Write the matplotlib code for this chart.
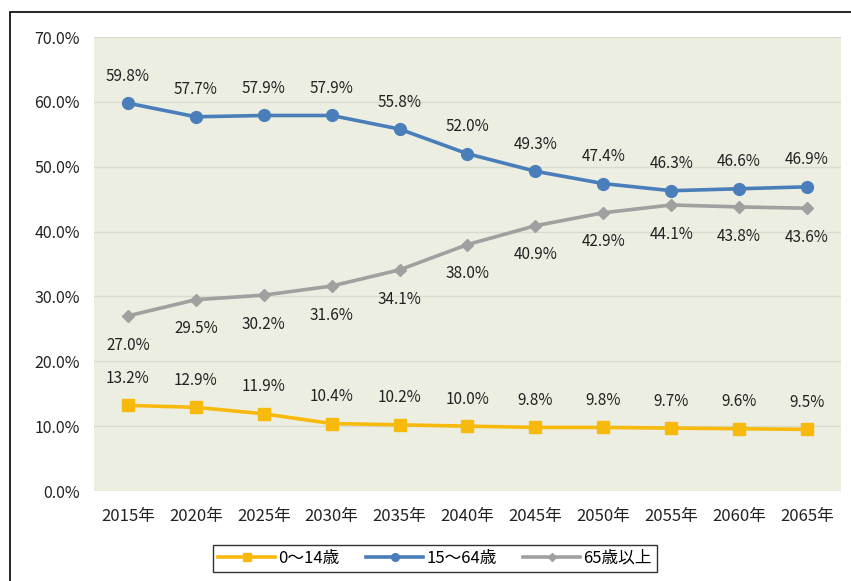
import matplotlib
matplotlib.use("Agg")
from matplotlib import pyplot as plt
from matplotlib.patches import Rectangle

plt.rcParams['font.family'] = ['Noto Sans CJK JP', 'DejaVu Sans']

# data
years = ['2015年', '2020年', '2025年', '2030年', '2035年', '2040年',
         '2045年', '2050年', '2055年', '2060年', '2065年']
child = [13.2, 12.9, 11.9, 10.4, 10.2, 10.0, 9.8, 9.8, 9.7, 9.6, 9.5]
working = [59.8, 57.7, 57.9, 57.9, 55.8, 52.0, 49.3, 47.4, 46.3, 46.6, 46.9]
elderly = [27.0, 29.5, 30.2, 31.6, 34.1, 38.0, 40.9, 42.9, 44.1, 43.8, 43.6]
series_names = ['0～14歳', '15～64歳', '65歳以上']
y_ticks = [0, 10, 20, 30, 40, 50, 60, 70]

fig = plt.figure(figsize=(8.51, 5.81), dpi=100)
ax = fig.add_axes([94 / 851, 1 - 491 / 581, 747 / 851, 454 / 581])
ax.set_facecolor('#ECEEE2')

x = list(range(len(years)))

# (values, colour, marker, markersize, label offset in points)
styles = [
    (child, '#F7B90C', 's', 9, 19.5),
    (working, '#4A7EBB', 'o', 8.5, 19.5),
    (elderly, '#A0A0A0', 'D', 6.5, -21),
]

for (vals, col, mk, ms, off), name in zip(styles, series_names):
    ax.plot(x, vals, color=col, lw=2.6, marker=mk, markersize=ms, label=name)
    for xi, v in zip(x, vals):
        ax.annotate(f'{v:.1f}%', (xi, v), xytext=(0, off), textcoords='offset points',
                    ha='center', va='center', fontsize=11, color='#222222')

ax.set_xlim(-0.5, len(years) - 0.5)
ax.set_ylim(0, 70)
ax.set_yticks(y_ticks)
ax.set_yticklabels([f'{t:.1f}%' for t in y_ticks])
ax.set_xticks(x)
ax.set_xticklabels(years)
ax.tick_params(length=0, labelsize=11.5, colors='#222222')
ax.tick_params(axis='y', pad=10)
ax.tick_params(axis='x', pad=12, labelsize=12)
ax.yaxis.grid(True, color='#D9DBCF', lw=1)
ax.set_axisbelow(True)
for s in ax.spines.values():
    s.set_visible(False)

leg = fig.legend(loc='center', bbox_to_anchor=(435 / 851, 1 - 558 / 581), ncol=3,
                 fontsize=12, frameon=True, fancybox=False, edgecolor='black',
                 handlelength=3.4, columnspacing=1.6, handletextpad=0.2,
                 borderpad=0.3, borderaxespad=0, markerscale=0.65)
leg.get_frame().set_linewidth(1.0)

# outer border of the chart
fig.add_artist(Rectangle((10 / 851, -0.1), 1.2, 1.1 - 12 / 581, transform=fig.transFigure,
                         fill=False, edgecolor='black', lw=1.2))

fig.savefig('out.png', dpi=100)
